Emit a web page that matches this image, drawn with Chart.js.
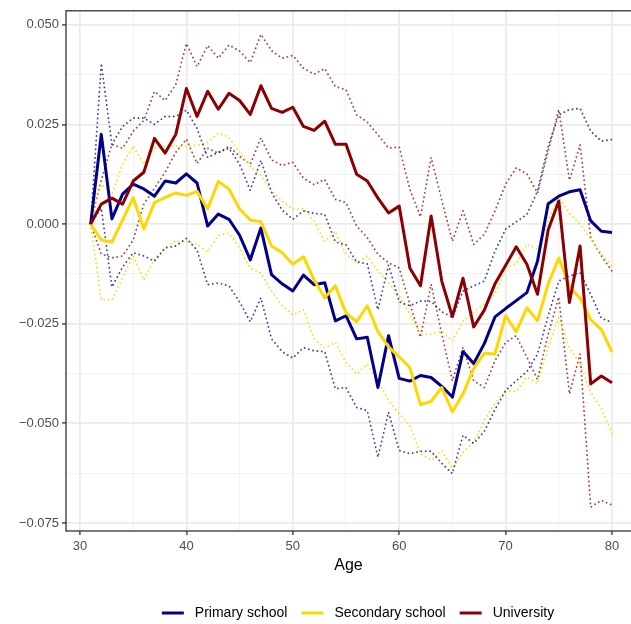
<!DOCTYPE html>
<html>
<head>
<meta charset="utf-8">
<script src="https://cdn.jsdelivr.net/npm/chart.js@4.4.1/dist/chart.umd.min.js"></script>
<style>
  html, body { margin: 0; padding: 0; background: #ffffff; }
  canvas { display: block; }
</style>
</head>
<body>
<canvas id="chart" width="631" height="624"></canvas>
<script>
// Age effect by education level, with dotted confidence bounds
const ages = [31,32,33,34,35,36,37,38,39,40,41,42,43,44,45,46,47,48,49,50,
              51,52,53,54,55,56,57,58,59,60,61,62,63,64,65,66,67,68,69,70,
              71,72,73,74,75,76,77,78,79,80];

const primary = [0, 0.0225, 0.0013, 0.0075, 0.010, 0.0088, 0.007, 0.0108, 0.0103, 0.0126,
  0.0103, -0.0005, 0.0025, 0.0012, -0.0028, -0.009, -0.001, -0.0127, -0.015, -0.0168,
  -0.0128, -0.0152, -0.0147, -0.0243, -0.023, -0.0288, -0.0284, -0.041, -0.028, -0.0387,
  -0.0394, -0.038, -0.0385, -0.0407, -0.0434, -0.032, -0.035, -0.030, -0.0233, -0.0212,
  -0.0192, -0.0172, -0.0093, 0.0051, 0.007, 0.0081, 0.0086, 0.0008, -0.0018, -0.0021];
const primaryLow = [0, 0.004, -0.0158, -0.0108, -0.0072, -0.008, -0.0093, -0.006, -0.0055, -0.0036,
  -0.0065, -0.0152, -0.0148, -0.0155, -0.0195, -0.0245, -0.0185, -0.0288, -0.032, -0.0336,
  -0.031, -0.0318, -0.032, -0.0413, -0.041, -0.046, -0.0468, -0.0585, -0.0472, -0.0568,
  -0.0576, -0.057, -0.057, -0.060, -0.0626, -0.053, -0.055, -0.052, -0.0465, -0.0418,
  -0.0393, -0.037, -0.0326, -0.023, -0.0143, -0.013, -0.0122, -0.0176, -0.0236, -0.0247];
const primaryHigh = [0, 0.0403, 0.020, 0.0245, 0.0266, 0.0266, 0.025, 0.027, 0.027, 0.0286,
  0.024, 0.0167, 0.018, 0.019, 0.015, 0.0085, 0.016, 0.008, 0.0035, 0.0012,
  0.0033, 0.0027, 0.0024, -0.0045, -0.0052, -0.0095, -0.010, -0.0215, -0.0103, -0.0195,
  -0.0205, -0.0193, -0.0194, -0.022, -0.0234, -0.0168, -0.0155, -0.0143, -0.0068, -0.0013,
  0.0006, 0.0024, 0.0083, 0.0195, 0.0274, 0.0287, 0.029, 0.0233, 0.0208, 0.0212];

const secondary = [0, -0.004, -0.0045, 0.001, 0.0066, -0.0012, 0.0054, 0.0067, 0.0078, 0.0072,
  0.0082, 0.0038, 0.0107, 0.0088, 0.0038, 0.001, 0.0006, -0.0055, -0.0072, -0.0101,
  -0.0082, -0.014, -0.0185, -0.0155, -0.0223, -0.0245, -0.0205, -0.027, -0.0308, -0.0333,
  -0.036, -0.0453, -0.0445, -0.041, -0.0471, -0.0426, -0.0362, -0.0324, -0.0326, -0.023,
  -0.027, -0.021, -0.0243, -0.015, -0.0085, -0.0157, -0.0186, -0.024, -0.0265, -0.0321];
const secondaryLow = [0, -0.019, -0.019, -0.0135, -0.008, -0.014, -0.0088, -0.006, -0.0042, -0.0045,
  -0.005, -0.007, -0.0028, -0.0023, -0.006, -0.011, -0.0123, -0.0168, -0.0205, -0.0228,
  -0.0215, -0.0288, -0.031, -0.0297, -0.0347, -0.0376, -0.0351, -0.0393, -0.0443, -0.0476,
  -0.0505, -0.0576, -0.0593, -0.0568, -0.0613, -0.0572, -0.0547, -0.0493, -0.0449, -0.0418,
  -0.042, -0.0384, -0.040, -0.031, -0.0235, -0.031, -0.035, -0.0422, -0.0463, -0.0526];
const secondaryHigh = [0, 0.010, 0.0075, 0.015, 0.0196, 0.015, 0.019, 0.0196, 0.0195, 0.0195,
  0.0198, 0.0205, 0.0228, 0.0218, 0.018, 0.0145, 0.0122, 0.0083, 0.0058, 0.0037,
  0.0039, 0.0008, -0.0043, -0.0018, -0.0076, -0.0097, -0.008, -0.0118, -0.0147, -0.018,
  -0.0226, -0.0276, -0.0276, -0.0268, -0.0293, -0.0243, -0.0222, -0.020, -0.0176, -0.011,
  -0.010, -0.005, -0.0063, 0.0008, 0.007, 0.0026, 0.0, -0.0038, -0.0074, -0.0105];

const university = [0, 0.005, 0.0065, 0.005, 0.0108, 0.013, 0.0215, 0.0178, 0.0225, 0.034,
  0.027, 0.0333, 0.0288, 0.0328, 0.031, 0.0275, 0.0347, 0.029, 0.028, 0.0293,
  0.0245, 0.0235, 0.0258, 0.020, 0.020, 0.0125, 0.0108, 0.0065, 0.0028, 0.0045,
  -0.011, -0.0155, 0.002, -0.0143, -0.0232, -0.0136, -0.0258, -0.0216, -0.015, -0.0104,
  -0.0057, -0.0101, -0.0176, -0.0015, 0.0058, -0.0197, -0.0055, -0.0401, -0.0381, -0.0398];
const universityLow = [0, -0.0075, -0.0085, -0.008, -0.004, 0.005, 0.009, 0.013, 0.018, 0.0213,
  0.0152, 0.019, 0.0178, 0.0195, 0.017, 0.015, 0.0216, 0.0161, 0.0147, 0.0155,
  0.0115, 0.0099, 0.0112, 0.0062, 0.0054, -0.0005, -0.0034, -0.0076, -0.0097, -0.011,
  -0.020, -0.0284, -0.0151, -0.0276, -0.0393, -0.0309, -0.0393, -0.041, -0.0343, -0.0297,
  -0.028, -0.0334, -0.039, -0.0276, -0.0183, -0.0426, -0.0326, -0.071, -0.0693, -0.0705];
const universityHigh = [0, 0.011, 0.020, 0.019, 0.0233, 0.026, 0.0333, 0.031, 0.035, 0.0453,
  0.0395, 0.0448, 0.0416, 0.0449, 0.0434, 0.0405, 0.0476, 0.0435, 0.0416, 0.0423,
  0.0391, 0.0376, 0.039, 0.0345, 0.0337, 0.0274, 0.0256, 0.0224, 0.0191, 0.0193,
  0.0087, 0.0018, 0.0167, 0.006, -0.0043, 0.0033, -0.0051, -0.0026, 0.0033, 0.010,
  0.0141, 0.0126, 0.0078, 0.0183, 0.0287, 0.011, 0.0199, -0.0034, -0.008, -0.0118];

const seriesNames = ['Primary school', 'Secondary school', 'University'];
const seriesColors = ['#00008B', '#FFD700', '#8B0000'];
const dottedColors = ['rgba(0,0,139,0.75)', 'rgba(255,215,0,0.9)', 'rgba(139,0,0,0.75)'];
const yTicks = [-0.075, -0.05, -0.025, 0, 0.025, 0.05];
const xTicks = [30, 40, 50, 60, 70, 80];

const FONT = '"Liberation Sans", Arial, Helvetica, sans-serif';

function points(values) {
  return ages.map((a, i) => ({ x: a, y: values[i] }));
}

// major ticks plus the midpoints between them (minor grid)
function withMinor(major) {
  const out = [];
  major.forEach((t, i) => {
    out.push({ value: t, minor: false });
    if (i < major.length - 1) out.push({ value: (t + major[i + 1]) / 2, minor: true });
  });
  return out;
}

const estimates = [primary, secondary, university];
const lows = [primaryLow, secondaryLow, universityLow];
const highs = [primaryHigh, secondaryHigh, universityHigh];

const datasets = [];
// dotted bounds first, beneath the estimate lines
for (let s = 0; s < 3; s++) {
  [lows[s], highs[s]].forEach((arr, k) => {
    datasets.push({
      label: seriesNames[s] + (k === 0 ? ' lower' : ' upper'),
      data: points(arr),
      borderColor: dottedColors[s],
      borderWidth: 1.9,
      borderDash: [0.01, 4.4],
      borderCapStyle: 'round',
      pointRadius: 0,
      tension: 0,
      fill: false,
      order: 10
    });
  });
}
for (let s = 0; s < 3; s++) {
  datasets.push({
    label: seriesNames[s],
    data: points(estimates[s]),
    borderColor: seriesColors[s],
    borderWidth: 3,
    borderJoinStyle: 'round',
    borderCapStyle: 'butt',
    pointRadius: 0,
    tension: 0,
    fill: false,
    order: 3 - s
  });
}

const panelBorder = {
  id: 'panelBorder',
  afterDatasetsDraw(chart) {
    const { ctx, chartArea: a } = chart;
    ctx.save();
    ctx.strokeStyle = '#333333';
    ctx.lineWidth = 1.3;
    ctx.strokeRect(a.left, a.top, a.right - a.left + 10, a.bottom - a.top);
    ctx.restore();
  }
};

const bottomLegend = {
  id: 'bottomLegend',
  afterDraw(chart) {
    const ctx = chart.ctx;
    ctx.save();
    ctx.font = '14px ' + FONT;
    const swatch = 22, toText = 11, between = 14;
    const widths = seriesNames.map(n => ctx.measureText(n).width);
    const total = widths.reduce((acc, w) => acc + swatch + toText + w, 0) + between * (seriesNames.length - 1);
    let x = 358 - total / 2;
    const y = 613;
    ctx.textBaseline = 'middle';
    ctx.textAlign = 'left';
    seriesNames.forEach((name, i) => {
      ctx.strokeStyle = seriesColors[i];
      ctx.lineWidth = 3;
      ctx.beginPath();
      ctx.moveTo(x, y);
      ctx.lineTo(x + swatch, y);
      ctx.stroke();
      ctx.fillStyle = '#000000';
      ctx.fillText(name, x + swatch + toText, y + 0.5);
      x += swatch + toText + widths[i] + between;
    });
    ctx.restore();
  }
};

function yLabel(v) {
  const s = Math.abs(v).toFixed(3);
  return v < -1e-9 ? '\u2212' + s : s;
}

new Chart(document.getElementById('chart'), {
  type: 'line',
  data: { datasets },
  plugins: [panelBorder, bottomLegend],
  options: {
    responsive: false,
    animation: false,
    devicePixelRatio: 1,
    layout: { autoPadding: false, padding: { left: 0, right: 0, top: 9, bottom: 49 } },
    plugins: { legend: { display: false }, tooltip: { enabled: false } },
    scales: {
      x: {
        type: 'linear',
        min: 28.684,
        max: 81.786,
        afterBuildTicks: s => { s.ticks = withMinor(xTicks); },
        afterFit: s => { s.height = 44; },
        border: { display: false },
        grid: {
          color: c => (c.tick && c.tick.minor) ? '#f2f2f2' : '#ebebeb',
          lineWidth: c => (c.tick && c.tick.minor) ? 1 : 1.8,
          tickLength: 4,
          tickColor: c => (c.tick && c.tick.minor) ? 'rgba(0,0,0,0)' : '#333333',
          tickWidth: 1.3
        },
        ticks: {
          autoSkip: false,
          maxRotation: 0,
          padding: 4,
          color: '#4d4d4d',
          font: { family: FONT, size: 13 },
          callback: (v, i, t) => t[i].minor ? '' : String(v)
        },
        title: {
          display: true,
          text: 'Age',
          color: '#000000',
          font: { family: FONT, size: 16 },
          padding: { top: 0, bottom: 0 }
        }
      },
      y: {
        type: 'linear',
        min: -0.077,
        max: 0.0535,
        afterBuildTicks: s => { s.ticks = withMinor(yTicks); },
        afterFit: s => { s.width = 66; },
        border: { display: false },
        grid: {
          color: c => (c.tick && c.tick.minor) ? '#f2f2f2' : '#ebebeb',
          lineWidth: c => (c.tick && c.tick.minor) ? 1 : 1.8,
          tickLength: 4,
          tickColor: c => (c.tick && c.tick.minor) ? 'rgba(0,0,0,0)' : '#333333',
          tickWidth: 1.3
        },
        ticks: {
          autoSkip: false,
          padding: 3,
          color: '#4d4d4d',
          font: { family: FONT, size: 13 },
          callback: (v, i, t) => t[i].minor ? '' : yLabel(v)
        }
      }
    }
  }
});
</script>
</body>
</html>
